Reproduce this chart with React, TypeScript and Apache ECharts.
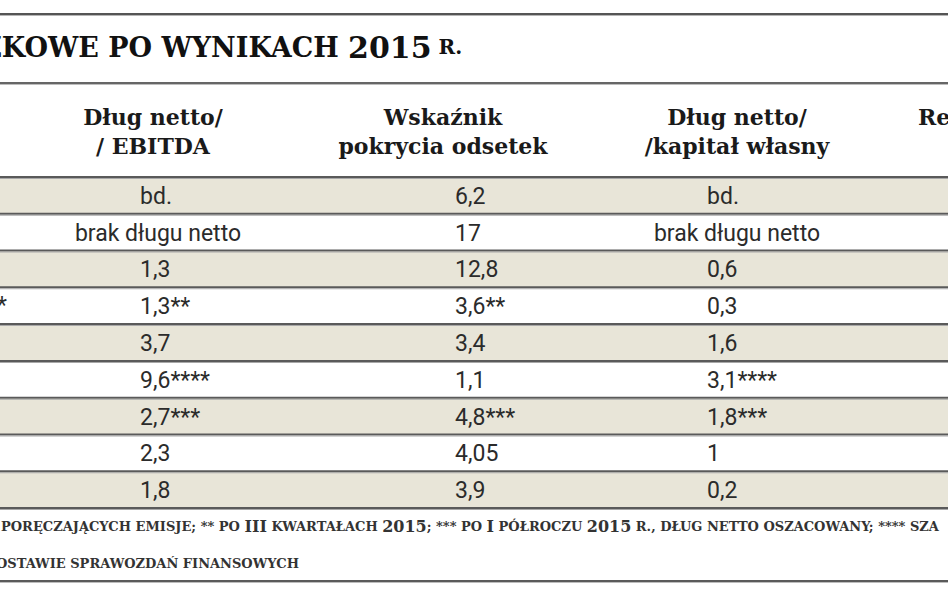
import React, { useEffect, useRef } from "react";
import * as echarts from "echarts";

const W = 948;
const H = 593;

const titleParts = ["ZKOWE PO WYNIKACH ", "2015", " R."];
const headers = ["Dług netto/\n/ EBITDA", "Wskaźnik\npokrycia odsetek", "Dług netto/\n/kapitał własny", "Re"];
const rowTails = ["", "", "", "*", "", "", "", "", ""];
const debtToEbitda = ["bd.", "brak długu netto", "1,3", "1,3**", "3,7", "9,6****", "2,7***", "2,3", "1,8"];
const interestCoverage = ["6,2", "17", "12,8", "3,6**", "3,4", "1,1", "4,8***", "4,05", "3,9"];
const debtToEquity = ["bd.", "brak długu netto", "0,6", "0,3", "1,6", "3,1****", "1,8***", "1", "0,2"];
const footnote1 = "{s|PORĘCZAJĄCYCH EMISJE; ** PO }{b|III}{s| KWARTAŁACH }{b|2015}{s|; *** PO }{b|I}{s| PÓŁROCZU }{b|2015}{s| R., DŁUG NETTO OSZACOWANY; **** SZA}";
const footnote2 = "{s|OSTAWIE SPRAWOZDAŃ FINANSOWYCH}";

const BEIGE = "#e8e5d8";
const LINE = "#5a5a5a";
const TEXT = "#2b2b2b";
const SERIF = "'DejaVu Serif', serif";
const SANS = "Roboto, sans-serif";

const colLefts = [140, 455, 707];
const colCenters = [158, 443, 737];
const headerCenters = [153, 443, 737, 918];

export default function App() {
  const ref = useRef<HTMLDivElement>(null);
  useEffect(() => {
    const chart = echarts.init(ref.current!, null, { renderer: "svg" });
    const cols = [debtToEbitda, interestCoverage, debtToEquity];
    const n = debtToEbitda.length;

    const hline = (y: number, h: number, color: string) => ({
      type: "rect",
      shape: { x: 0, y, width: W, height: h },
      style: { fill: color },
      silent: true,
    });

    const graphics: any[] = [
      hline(13, 2, "#555"),
      hline(15, 1, "#b5b5b5"),
      hline(82, 2, "#666"),
      hline(84, 1, "#bdbdbd"),
      hline(176, 2, "#5a5a5a"),
      hline(580, 2, "#5a5a5a"),
      hline(582, 1, "#bdbdbd"),
      {
        type: "text",
        x: -18,
        y: 62,
        style: {
          text: `{a|${titleParts[0]}}{b|${titleParts[1]}}{c|${titleParts[2]}}`,
          align: "left",
          textAlign: "left",
          verticalAlign: "bottom",
          textVerticalAlign: "bottom",
          rich: {
            a: { fontFamily: SERIF, fontWeight: 900, fontSize: 27, fill: "#111", color: "#111" },
            b: { fontFamily: SERIF, fontWeight: 900, fontSize: 30, fill: "#111", color: "#111" },
            c: { fontFamily: SERIF, fontWeight: 900, fontSize: 20, fill: "#111", color: "#111" },
          },
        },
      },
      ...headers.map((h, k) => ({
        type: "text",
        x: headerCenters[k],
        y: k === 3 ? 117 : 131,
        style: {
          text: h,
          font: `bold 22px ${SERIF}`,
          fill: "#1a1a1a",
          lineHeight: 29,
          align: k === 3 ? "left" : "center",
          textAlign: k === 3 ? "left" : "center",
          verticalAlign: "middle",
          textVerticalAlign: "middle",
        },
      })),
      ...[footnote1, footnote2].map((t, k) => ({
        type: "text",
        x: k === 0 ? 1 : -4,
        y: k === 0 ? 526 : 563,
        style: {
          text: t,
          align: "left",
          textAlign: "left",
          verticalAlign: "middle",
          textVerticalAlign: "middle",
          rich: {
            s: { fontFamily: SERIF, fontWeight: "bold", fontSize: 13, fill: "#333", color: "#333" },
            b: { fontFamily: SERIF, fontWeight: "bold", fontSize: 16, fill: "#333", color: "#333" },
          },
        },
      })),
    ];

    const option: any = {
      animation: false,
      backgroundColor: "#ffffff",
      grid: { left: 0, right: 0, top: 177, bottom: H - 508 },
      xAxis: { type: "value", min: 0, max: W, show: false },
      yAxis: { type: "category", inverse: true, data: debtToEbitda.map((_, i) => String(i)), show: false },
      series: [
        {
          type: "custom",
          clip: false,
          encode: { x: 0, y: 1 },
          data: debtToEbitda.map((_, i) => [0, i]),
          renderItem: (params: any, api: any) => {
            const i = api.value(1) as number;
            const c = api.coord([0, i]);
            const cy = c[1];
            const h = api.size([0, 1])[1];
            const top = cy - h / 2;
            const children: any[] = [];
            children.push({
              type: "rect",
              shape: { x: 0, y: top, width: W, height: h },
              style: { fill: i % 2 === 0 ? BEIGE : "#ffffff" },
            });
            cols.forEach((col, k) => {
              const txt = col[i];
              const centered = txt.length > 8;
              const x = api.coord([centered ? colCenters[k] : colLefts[k], i])[0];
              children.push({
                type: "text",
                style: {
                  text: txt,
                  x,
                  y: cy + 1,
                  font: `23px ${SANS}`,
                  fill: TEXT,
                  align: centered ? "center" : "left",
                  textAlign: centered ? "center" : "left",
                  verticalAlign: "middle",
                  textVerticalAlign: "middle",
                },
              });
            });
            if (rowTails[i]) {
              children.push({
                type: "text",
                style: {
                  text: rowTails[i],
                  x: api.coord([-3, i])[0],
                  y: cy,
                  font: `23px ${SANS}`,
                  fill: TEXT,
                  align: "left",
                  textAlign: "left",
                  verticalAlign: "middle",
                  textVerticalAlign: "middle",
                },
              });
            }
            children.push({ type: "rect", shape: { x: 0, y: top - 1, width: W, height: 2 }, style: { fill: LINE } });
            children.push({ type: "rect", shape: { x: 0, y: top + 1, width: W, height: 1 }, style: { fill: "#a8a8a8" } });
            if (i === n - 1) {
              children.push({ type: "rect", shape: { x: 0, y: top + h - 1, width: W, height: 2 }, style: { fill: LINE } });
              children.push({ type: "rect", shape: { x: 0, y: top + h + 1, width: W, height: 1 }, style: { fill: "#a8a8a8" } });
            }
            return { type: "group", children };
          },
        },
      ],
      graphic: graphics,
    };
    chart.setOption(option);
    return () => chart.dispose();
  }, []);
  return (
    <div
      ref={ref}
      style={{ position: "fixed", left: 0, top: 0, width: W, height: H, background: "#fff" }}
    />
  );
}
